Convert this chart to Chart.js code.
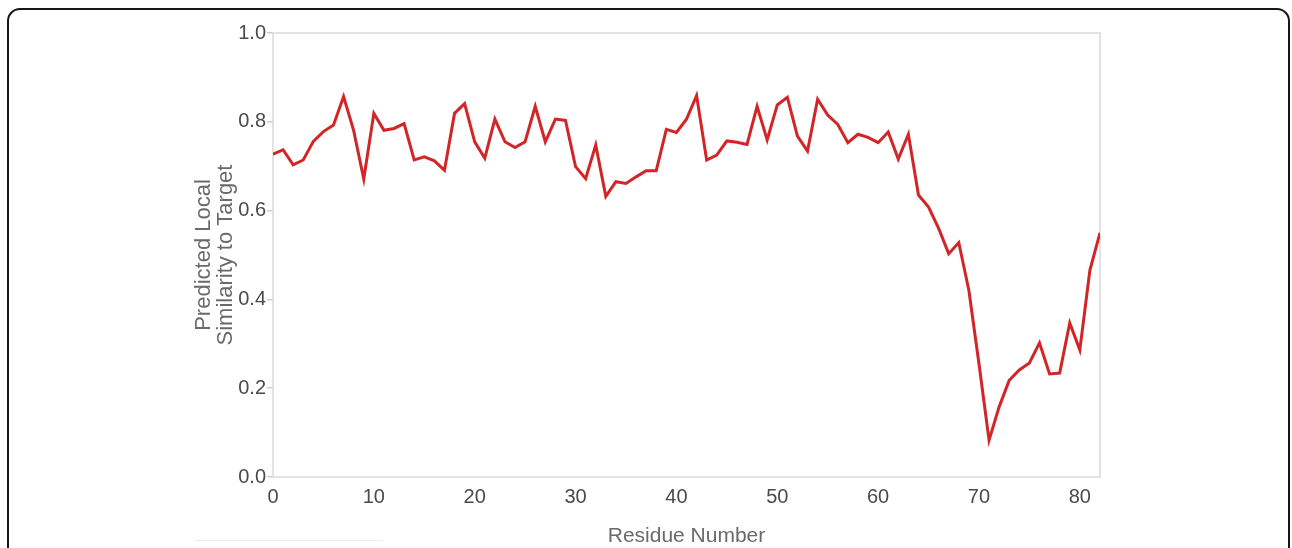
<!DOCTYPE html>
<html>
<head>
<meta charset="utf-8">
<script src="https://cdn.jsdelivr.net/npm/chart.js@4.4.1/dist/chart.umd.min.js"></script>
<style>
  html, body { margin: 0; padding: 0; background: #fff; overflow: hidden; }
  #wrap { position: relative; width: 1292px; height: 548px; }
  #frame {
    position: absolute; left: 7px; top: 8px; width: 1283px; height: 620px;
    border: 2px solid #161616; border-radius: 13px; box-sizing: border-box;
  }
  #rule {
    position: absolute; left: 195px; top: 540px; width: 188px; height: 1px;
    background: #ececec;
  }
  canvas { position: absolute; left: 0; top: 0; }
</style>
</head>
<body>
<div id="wrap">
  <div id="frame"></div>
  <div id="rule"></div>
  <canvas id="chart" width="1292" height="548"></canvas>
</div>
<script>
// Residue positions along the chain
const residues = [
  0, 1, 2, 3, 4, 5, 6, 7, 8, 9,
  10, 11, 12, 13, 14, 15, 16, 17, 18, 19,
  20, 21, 22, 23, 24, 25, 26, 27, 28, 29,
  30, 31, 32, 33, 34, 35, 36, 37, 38, 39,
  40, 41, 42, 43, 44, 45, 46, 47, 48, 49,
  50, 51, 52, 53, 54, 55, 56, 57, 58, 59,
  60, 61, 62, 63, 64, 65, 66, 67, 68, 69,
  70, 71, 72, 73, 74, 75, 76, 77, 78, 79,
  80, 81, 82
];

// Predicted local similarity to target for each residue
const similarity = [
  0.727, 0.737, 0.703, 0.714, 0.756, 0.778, 0.793, 0.857, 0.780, 0.671,
  0.819, 0.781, 0.785, 0.796, 0.714, 0.721, 0.712, 0.691, 0.819, 0.841,
  0.755, 0.718, 0.806, 0.755, 0.742, 0.755, 0.835, 0.755, 0.806, 0.803,
  0.699, 0.672, 0.748, 0.632, 0.665, 0.661, 0.676, 0.690, 0.690, 0.783,
  0.776, 0.806, 0.859, 0.714, 0.725, 0.757, 0.754, 0.749, 0.835, 0.759,
  0.838, 0.855, 0.768, 0.734, 0.851, 0.815, 0.794, 0.753, 0.772, 0.765,
  0.753, 0.777, 0.716, 0.772, 0.635, 0.608, 0.560, 0.503, 0.528, 0.420,
  0.255, 0.083, 0.158, 0.218, 0.241, 0.257, 0.302, 0.232, 0.234, 0.347,
  0.286, 0.466, 0.550
];

// Axis ranges and labels
const xRange = [0, 82];
const xStep = 10;
const yRange = [0, 1];
const yStep = 0.2;
const xTitle = 'Residue Number';
const yTitle = ['Predicted Local', 'Similarity to Target'];

const points = residues.map((r, i) => ({ x: r, y: similarity[i] }));

// Light grey box around the plotting area
const plotBox = {
  id: 'plotBox',
  beforeDatasetsDraw(chart) {
    const { ctx, chartArea: a } = chart;
    ctx.save();
    ctx.strokeStyle = '#d9d9d9';
    ctx.lineWidth = 1.5;
    ctx.strokeRect(a.left, a.top, a.right - a.left, a.bottom - a.top);
    ctx.restore();
  }
};

const FONT = '"Liberation Sans", Arial, Helvetica, sans-serif';

new Chart(document.getElementById('chart'), {
  type: 'line',
  data: {
    datasets: [{
      data: points,
      borderColor: '#d22527',
      borderWidth: 3,
      borderJoinStyle: 'miter',
      pointRadius: 0,
      tension: 0,
      fill: false
    }]
  },
  options: {
    responsive: false,
    animation: false,
    events: [],
    layout: { padding: { left: 0, top: 33, right: 192, bottom: 0 } },
    plugins: { legend: { display: false }, tooltip: { enabled: false } },
    scales: {
      x: {
        type: 'linear',
        min: xRange[0],
        max: xRange[1],
        border: { display: false },
        grid: { display: true, drawOnChartArea: false, drawTicks: false, color: '#d9d9d9' },
        ticks: {
          stepSize: xStep,
          includeBounds: false,
          padding: 8,
          color: '#4a4a4a',
          font: { family: FONT, size: 20 },
          maxRotation: 0
        },
        title: {
          display: true,
          text: xTitle,
          color: '#6a6a6a',
          font: { family: FONT, size: 21, lineHeight: 1.1 },
          padding: { top: 0, bottom: 0 }
        },
        afterFit(scale) { scale.height = 71; }
      },
      y: {
        type: 'linear',
        min: yRange[0],
        max: yRange[1],
        border: { display: false },
        grid: { display: true, drawOnChartArea: false, drawTicks: true, tickLength: 6, color: '#cfcfcf', lineWidth: 1.5 },
        ticks: {
          stepSize: yStep,
          padding: 1,
          color: '#4a4a4a',
          font: { family: FONT, size: 20 },
          callback: v => v.toFixed(1)
        },
        title: {
          display: true,
          text: yTitle,
          color: '#6a6a6a',
          font: { family: FONT, size: 22, lineHeight: 1.0 },
          padding: { top: 193, bottom: 0 }
        },
        afterFit(scale) { scale.width = 273; }
      }
    }
  },
  plugins: [plotBox]
});
</script>
</body>
</html>
